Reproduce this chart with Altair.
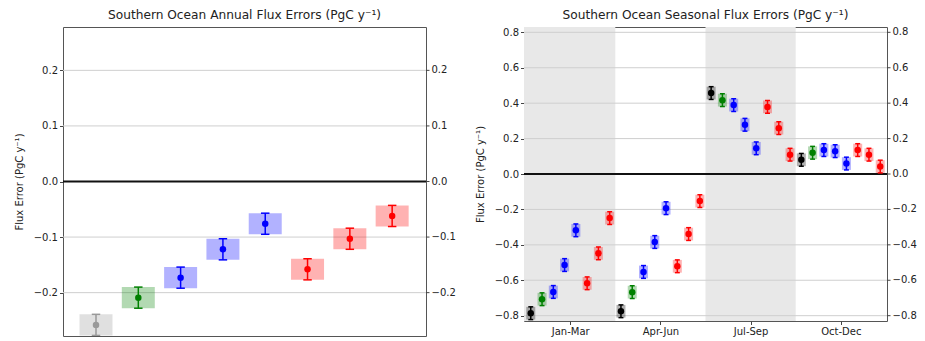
import altair as alt
import pandas as pd

# ---------------- data ----------------
annual_colors = ["#999999", "#008000", "#0000ff", "#0000ff", "#0000ff", "#ff0000", "#ff0000", "#ff0000"]
annual_values = [-0.258, -0.209, -0.173, -0.122, -0.076, -0.158, -0.103, -0.062]
annual_errors = [0.019, 0.019, 0.019, 0.019, 0.019, 0.019, 0.019, 0.019]
annual_ticks = [-0.2, -0.1, 0.0, 0.1, 0.2]
annual_grid = [-0.2, -0.1, 0.1, 0.2]

seasonal_group_colors = ["#000000", "#008000", "#0000ff", "#0000ff", "#0000ff", "#ff0000", "#ff0000", "#ff0000"]
quarters = ["Jan-Mar", "Apr-Jun", "Jul-Sep", "Oct-Dec"]
seasonal_values = [
    -0.786, -0.707, -0.666, -0.514, -0.318, -0.617, -0.448, -0.249,
    -0.775, -0.667, -0.553, -0.384, -0.193, -0.521, -0.339, -0.153,
    0.457, 0.417, 0.389, 0.278, 0.145, 0.379, 0.259, 0.109,
    0.080, 0.120, 0.135, 0.129, 0.059, 0.135, 0.109, 0.042,
]
seasonal_errors = [
    0.036, 0.036, 0.036, 0.036, 0.036, 0.036, 0.036, 0.036,
    0.036, 0.036, 0.036, 0.036, 0.036, 0.036, 0.036, 0.036,
    0.036, 0.036, 0.036, 0.036, 0.036, 0.036, 0.036, 0.036,
    0.036, 0.036, 0.036, 0.036, 0.036, 0.036, 0.036, 0.036,
]
quarter_centers = [3.5, 11.5, 19.5, 27.5]
shade_start = [-2.0, 15.5]
shade_end = [7.5, 23.5]
seasonal_ticks = [-0.8, -0.6, -0.4, -0.2, 0.0, 0.2, 0.4, 0.6, 0.8]
seasonal_grid = [-0.8, -0.6, -0.4, -0.2, 0.2, 0.4, 0.6, 0.8]

YTITLE = "Flux Error (PgC y\u207b\u00b9)"
FONT = "DejaVu Sans"


def make_df(values, errors, colors, box_half, cap_half):
    rows = []
    for i, (v, e, c) in enumerate(zip(values, errors, colors)):
        rows.append(dict(idx=i, val=v, lo=v - e, hi=v + e,
                         bx0=i - box_half, bx1=i + box_half,
                         cx0=i - cap_half, cx1=i + cap_half, color=c))
    return pd.DataFrame(rows)


def panel(df, xdom, ydom, width, height, title, xaxis, ticks, grid_vals, shade=None):
    xs = alt.Scale(domain=xdom, nice=False, zero=False)
    ys = alt.Scale(domain=ydom, nice=False, zero=False)
    ax_left = alt.Axis(orient="left", values=ticks, format=".1f", title=YTITLE,
                       grid=False, domain=False, tickSize=3.5, labelPadding=2,
                       titlePadding=9)

    def X(field):
        return alt.X(field, type="quantitative", scale=xs, axis=xaxis)

    def Y(field):
        return alt.Y(field, type="quantitative", scale=ys, axis=ax_left)

    layers = []
    if shade is not None:
        sdf = shade.copy()
        sdf["y0"] = ydom[0]
        sdf["y1"] = ydom[1]
        layers.append(
            alt.Chart(sdf).mark_rect(color="#e8e8e8", clip=True).encode(
                x=X("s0"), x2=alt.X2("s1"), y=Y("y0"), y2=alt.Y2("y1"))
        )
    gdf = pd.DataFrame({"g": grid_vals, "x0": xdom[0], "x1": xdom[1]})
    layers.append(
        alt.Chart(gdf).mark_rule(color="#cfcfcf", strokeWidth=1).encode(
            y=Y("g"), x=X("x0"), x2=alt.X2("x1"))
    )
    zdf = pd.DataFrame({"z": [0.0], "x0": [xdom[0]], "x1": [xdom[1]]})
    layers.append(
        alt.Chart(zdf).mark_rule(color="#111111", strokeWidth=1.8).encode(
            y=Y("z"), x=X("x0"), x2=alt.X2("x1"))
    )
    base = alt.Chart(df)
    layers.append(
        base.mark_rect(opacity=0.3, clip=True).encode(
            x=X("bx0"), x2=alt.X2("bx1"), y=Y("lo"), y2=alt.Y2("hi"),
            color=alt.Color("color:N", scale=None))
    )
    layers.append(
        base.mark_rule(strokeWidth=1.5, clip=True).encode(
            x=X("idx"), y=Y("lo"), y2=alt.Y2("hi"),
            color=alt.Color("color:N", scale=None))
    )
    for f in ("lo", "hi"):
        layers.append(
            base.mark_rule(strokeWidth=1.5, clip=True).encode(
                x=X("cx0"), x2=alt.X2("cx1"), y=Y(f),
                color=alt.Color("color:N", scale=None))
        )
    layers.append(
        base.mark_circle(size=42, opacity=1, clip=True).encode(
            x=X("idx"), y=Y("val"),
            color=alt.Color("color:N", scale=None))
    )
    # mirrored axis on the right side (ticks + labels)
    tdf = pd.DataFrame({"t": ticks})
    layers.append(
        alt.Chart(tdf).mark_rule(color="#444444", strokeWidth=1).encode(
            y=Y("t"), x=alt.value(width), x2=alt.value(width + 3.5))
    )
    layers.append(
        alt.Chart(tdf).transform_calculate(lab="format(datum.t, '.1f')").mark_text(
            align="left", baseline="middle", fontSize=10, font=FONT, color="#222222").encode(
            y=Y("t"), x=alt.value(width + 5.5), text="lab:N")
    )
    return alt.layer(*layers).properties(width=width, height=height, title=title)


annual_df = make_df(annual_values, annual_errors, annual_colors, 0.39, 0.1)
seasonal_colors = seasonal_group_colors * len(quarters)
seasonal_df = make_df(seasonal_values, seasonal_errors, seasonal_colors, 0.4, 0.22)
shade_df = pd.DataFrame({"s0": shade_start, "s1": shade_end})

qexpr = "[" + ",".join("'" + q + "'" for q in quarters) + "][floor(datum.value / 8)]"
season_xaxis = alt.Axis(values=quarter_centers, labelExpr=qexpr, title=None, grid=False,
                        domain=False, tickSize=3.5, labelPadding=2)

left = panel(annual_df, [-0.78, 7.8], [-0.278, 0.278], 363, 309,
             "Southern Ocean Annual Flux Errors (PgC y\u207b\u00b9)", None,
             annual_ticks, annual_grid)
right = panel(seasonal_df, [-0.6, 31.6], [-0.83, 0.83], 363, 294,
              "Southern Ocean Seasonal Flux Errors (PgC y\u207b\u00b9)", season_xaxis,
              seasonal_ticks, seasonal_grid, shade=shade_df)

chart = alt.hconcat(left, right, spacing=17).configure(
    padding={"left": 13, "top": 8, "right": 5, "bottom": 0},
    font=FONT,
).configure_view(
    stroke="#555555", strokeWidth=1
).configure_axis(
    labelFont=FONT, labelFontSize=10, labelColor="#222222",
    titleFont=FONT, titleFontSize=10, titleFontWeight="normal", titleColor="#222222",
    tickColor="#444444",
).configure_title(
    font=FONT, fontSize=12.2, fontWeight="normal", color="#222222", frame="group", offset=6,
)

chart.save("out.html", embed_options={"renderer": "svg", "actions": False})
